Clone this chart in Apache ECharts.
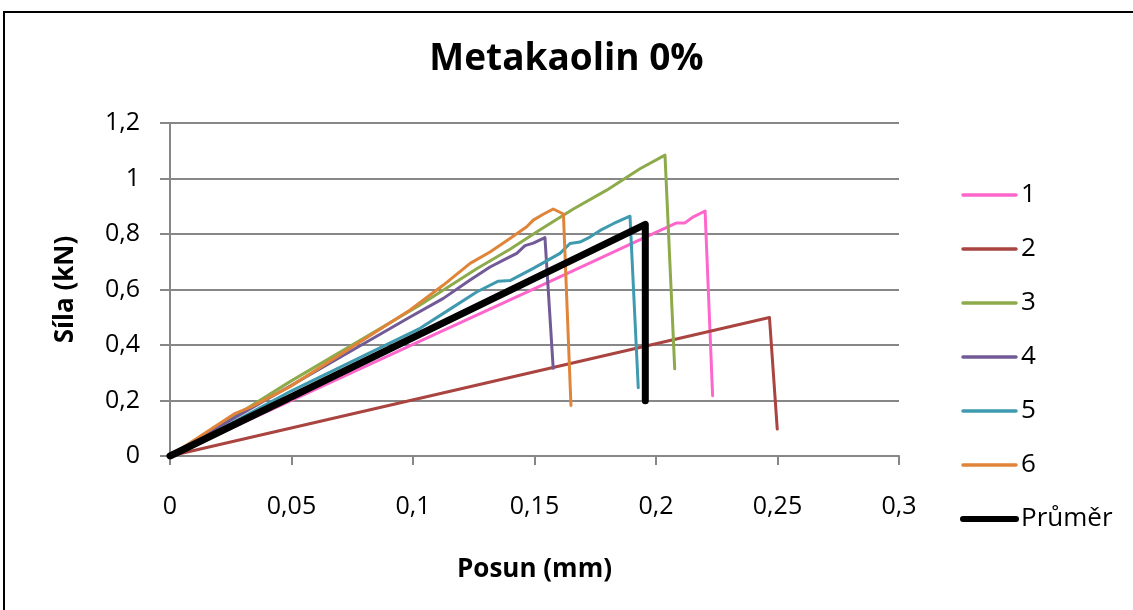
<!DOCTYPE html>
<html>
<head>
<meta charset="utf-8">
<title>Metakaolin 0%</title>
<script src="https://cdn.jsdelivr.net/npm/echarts@6/dist/echarts.min.js"></script>
<style>
  html, body { margin: 0; padding: 0; background: #fff; }
  #myChart1 { width: 1133px; height: 610px; }
</style>
</head>
<body>
<div id="myChart1"></div>
<script>
// data: [posun mm, sila kN]
const seriesNames = ['1', '2', '3', '4', '5', '6', 'Průměr'];
const xTicks = [0, 0.05, 0.1, 0.15, 0.2, 0.25, 0.3];
const yTicks = [0, 0.2, 0.4, 0.6, 0.8, 1, 1.2];

const s1 = [[0, 0], [0.05, 0.2], [0.1, 0.402], [0.15, 0.603], [0.1975, 0.796], [0.2085, 0.84], [0.2119, 0.84], [0.2154, 0.862], [0.2202, 0.883], [0.2233, 0.217]];
const s2 = [[0, 0], [0.2467, 0.499], [0.2499, 0.097]];
const s3 = [[0, 0], [0.027, 0.146], [0.0494, 0.268], [0.1029, 0.544], [0.1262, 0.675], [0.1399, 0.745], [0.1523, 0.815], [0.166, 0.89], [0.1797, 0.958], [0.1934, 1.035], [0.2037, 1.084], [0.2077, 0.314]];
const s4 = [[0, 0], [0.027, 0.14], [0.05, 0.255], [0.0988, 0.501], [0.1125, 0.568], [0.1235, 0.634], [0.1317, 0.681], [0.1386, 0.712], [0.1427, 0.73], [0.1461, 0.758], [0.1495, 0.767], [0.1543, 0.787], [0.1577, 0.316]];
const s5 = [[0, 0], [0.05, 0.235], [0.1029, 0.46], [0.1125, 0.514], [0.1262, 0.591], [0.1351, 0.63], [0.1399, 0.632], [0.1495, 0.676], [0.1605, 0.73], [0.1646, 0.766], [0.1687, 0.771], [0.1728, 0.789], [0.177, 0.813], [0.1824, 0.837], [0.1893, 0.864], [0.1927, 0.246]];
const s6 = [[0, 0], [0.0267, 0.153], [0.0336, 0.178], [0.0494, 0.25], [0.0988, 0.526], [0.1125, 0.616], [0.1235, 0.694], [0.1317, 0.735], [0.1399, 0.784], [0.1468, 0.826], [0.1495, 0.85], [0.1536, 0.871], [0.1577, 0.89], [0.1619, 0.872], [0.165, 0.182]];
const avg = [[0, 0], [0.1956, 0.835], [0.1956, 0.199]];

const colors = ['#ff66cc', '#a94440', '#8dab4b', '#725a96', '#3f9ab0', '#e0843a', '#000000'];
const font = 'Open Sans';

function comma(v) {
  return String(+v.toFixed(2)).replace('.', ',');
}

let myChart = echarts.init(document.getElementById('myChart1'));
const allData = [s1, s2, s3, s4, s5, s6, avg];

myChart.setOption({
  animation: false,
  color: colors,
  textStyle: { fontFamily: font },
  title: {
    text: 'Metakaolin 0%',
    left: 'center',
    top: 36,
    textStyle: { fontFamily: font, fontSize: 37, fontWeight: 'bold', color: '#000' }
  },
  // frame round the chart
  graphic: [{
    type: 'rect',
    shape: { x: 4, y: 12, width: 1200, height: 700 },
    style: { fill: 'none', stroke: '#000', lineWidth: 2 },
    silent: true
  }],
  legend: {
    orient: 'vertical',
    left: 955,
    top: 177,
    itemWidth: 53,
    itemHeight: 14,
    itemGap: 28,
    itemStyle: { opacity: 0 },
    data: seriesNames.map(function (name, i) {
      return { name: name, lineStyle: { width: i === 6 ? 6 : 3.5 } };
    }),
    textStyle: { fontFamily: font, fontSize: 26, color: '#000', lineHeight: 26 }
  },
  grid: { left: 170, right: 234, top: 123, bottom: 154 },
  xAxis: {
    type: 'value',
    min: 0,
    max: 0.3,
    interval: 0.05,
    name: 'Posun (mm)',
    nameLocation: 'middle',
    nameGap: 101,
    nameTextStyle: { fontFamily: font, fontSize: 26, fontWeight: 'bold', color: '#000' },
    axisLine: { lineStyle: { color: '#878787', width: 2 } },
    axisTick: { show: true, inside: false, length: 9, lineStyle: { color: '#878787', width: 2 } },
    axisLabel: { margin: 38, fontSize: 25, color: '#000', formatter: comma },
    splitLine: { show: false }
  },
  yAxis: {
    type: 'value',
    min: 0,
    max: 1.2,
    interval: 0.2,
    name: 'Síla (kN)',
    nameLocation: 'middle',
    nameGap: 91,
    nameTextStyle: { fontFamily: font, fontSize: 26, fontWeight: 'bold', color: '#000' },
    axisLine: { show: true, lineStyle: { color: '#878787', width: 2 } },
    axisTick: { show: true, inside: false, length: 10, lineStyle: { color: '#878787', width: 2 } },
    axisLabel: { margin: 30, fontSize: 25, color: '#000', formatter: comma },
    splitLine: { show: true, lineStyle: { color: '#878787', width: 2 } }
  },
  series: seriesNames.map(function (name, i) {
    return {
      name: name,
      type: 'line',
      symbol: 'none',
      data: allData[i],
      z: i === 6 ? 10 : 2,
      lineStyle: { width: i === 6 ? 7 : 3, color: colors[i], cap: 'round', join: 'round' }
    };
  })
});

window.addEventListener('resize', () => {
  if (myChart) {
    myChart.resize();
  }
});
</script>
</body>
</html>
